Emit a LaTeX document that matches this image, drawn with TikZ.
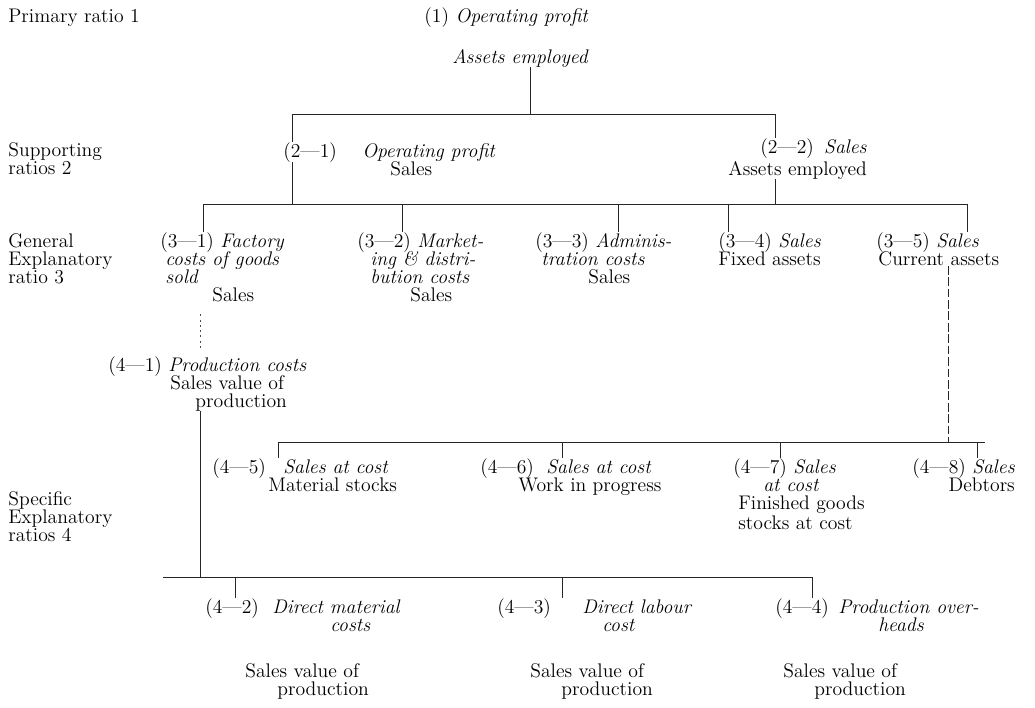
\documentclass[tikz,border=0pt]{standalone}
\begin{document}
\begin{tikzpicture}[x=0.02cm, y=-0.02cm,
  txt/.style={anchor=base west, inner sep=0pt, font=\fontsize{11.2}{12}\selectfont},
  rtxt/.style={txt, anchor=base east},
  link/.style={line width=0.55pt, black!85},
  faint/.style={line width=0.5pt, black!70, dash pattern=on 1.2pt off 1.8pt},
  broken/.style={line width=0.55pt, black!85, dash pattern=on 5pt off 1.5pt}]
\useasboundingbox (0,0) rectangle (1035,707);

% level labels
\node[txt] (l1)  at (8,22)  {Primary ratio 1};
\node[txt] (l2a) at (8,156) {Supporting};
\node[txt] (l2b) at (8,174) {ratios 2};
\node[txt] (l3a) at (8,247) {General};
\node[txt] (l3b) at (8,265) {Explanatory};
\node[txt] (l3c) at (8,283) {ratio 3};
\node[txt] (l4a) at (8,505) {Specific};
\node[txt] (l4b) at (8,523) {Explanatory};
\node[txt] (l4c) at (8,541) {ratios 4};

% primary ratio
\node[txt] (r1b) at (452,63) {\textit{Assets employed}};
\node[rtxt] (r1a) at (r1b.base east |- 0,22) {(1)~\textit{Operating profit}};

% supporting ratios
\node[txt] (r21a) at (283,157) {(2\textemdash1)};
\node[txt] (r21b) at (362,157) {\textit{Operating profit}};
\node[txt] (r21c) at (390,175) {Sales};
\node[txt] (r22c) at (728,175) {Assets employed};
\node[txt] (r22a) at (760,153) {(2\textemdash2)};
\node[rtxt] (r22b) at (r22c.base east |- 0,153) {\textit{Sales}};

% general explanatory ratios
\node[txt] (r31a) at (160,247) {(3\textemdash1)~\textit{Factory}};
\node[txt] (r31b) at (165,265) {\textit{costs of goods}};
\node[txt] (r31c) at (165,283) {\textit{sold}};
\node[txt] (r31d) at (212,301) {Sales};
\node[txt] (r32a) at (357,247) {(3\textemdash2)~\textit{Market-}};
\node[txt] (r32b) at (370,265) {\textit{ing \& distri-}};
\node[txt] (r32c) at (370,283) {\textit{bution costs}};
\node[txt] (r32d) at (410,301) {Sales};
\node[txt] (r33a) at (535,247) {(3\textemdash3)~\textit{Adminis-}};
\node[txt] (r33b) at (541,265) {\textit{tration costs}};
\node[txt] (r33c) at (588,283) {Sales};
\node[txt] (r34a) at (718,247) {(3\textemdash4)~\textit{Sales}};
\node[txt] (r34b) at (718,265) {Fixed assets};
\node[txt] (r35a) at (876,247) {(3\textemdash5)~\textit{Sales}};
\node[txt] (r35b) at (878,265) {Current assets};

% specific explanatory ratios
\node[txt] (r41a) at (108,371) {(4\textemdash1)};
\node[txt] (r41b) at (168,371) {\textit{Production costs}};
\node[txt] (r41c) at (170,389) {Sales value of};
\node[txt] (r41d) at (195,407) {production};

\node[txt] (r45a) at (212,473) {(4\textemdash5)};
\node[txt] (r45b) at (283,473) {\textit{Sales at cost}};
\node[txt] (r45c) at (268,491) {Material stocks};
\node[txt] (r46a) at (480,473) {(4\textemdash6)};
\node[txt] (r46b) at (546,473) {\textit{Sales at cost}};
\node[txt] (r46c) at (518,491) {Work in progress};
\node[txt] (r47a) at (733,473) {(4\textemdash7)~\textit{Sales}};
\node[txt] (r47b) at (763,491) {\textit{at cost}};
\node[txt] (r47c) at (738,509) {Finished goods};
\node[txt] (r47d) at (738,529) {stocks at cost};
\node[txt] (r48a) at (912,473) {(4\textemdash8)~\textit{Sales}};
\node[rtxt] (r48b) at (r48a.base east |- 0,491) {Debtors};

\node[txt] (r42a) at (205,613) {(4\textemdash2)};
\node[txt] (r42b) at (272,613) {\textit{Direct material}};
\node[txt] (r42c) at (330,631) {\textit{costs}};
\node[txt] (r42d) at (245,677) {Sales value of};
\node[txt] (r42e) at (277,695) {production};
\node[txt] (r43a) at (497,613) {(4\textemdash3)};
\node[txt] (r43b) at (582,613) {\textit{Direct labour}};
\node[txt] (r43c) at (602,631) {\textit{cost}};
\node[txt] (r43d) at (530,677) {Sales value of};
\node[txt] (r43e) at (561,695) {production};
\node[txt] (r44a) at (775,613) {(4\textemdash4)};
\node[txt] (r44b) at (838,613) {\textit{Production over-}};
\node[txt] (r44c) at (878,631) {\textit{heads}};
\node[txt] (r44d) at (783,677) {Sales value of};
\node[txt] (r44e) at (814,695) {production};

% junctions of the connecting lines
\coordinate (b1l) at (292,114);
\coordinate (b1m) at (530,114);
\coordinate (b1r) at (775,114);
\coordinate (b2l) at (203,204);
\coordinate (b2a) at (292,204);
\coordinate (b2b) at (402,204);
\coordinate (b2c) at (618,204);
\coordinate (b2d) at (728,204);
\coordinate (b2e) at (775,204);
\coordinate (b2r) at (967,204);
\coordinate (b3l) at (163,577);
\coordinate (b3a) at (200,577);
\coordinate (b3b) at (235,577);
\coordinate (b3c) at (562,577);
\coordinate (b3r) at (812,577);
\coordinate (b4l) at (278,442);
\coordinate (b4a) at (562,442);
\coordinate (b4b) at (780,442);
\coordinate (b4c) at (948,442);
\coordinate (b4r) at (977,442);

% primary -> supporting
\draw[link] (r1b.south -| b1m) -- (b1m);
\draw[link] (b1l) -- (b1r);
\draw[link] (b1l) -- (b1l |- r21a.north);
\draw[link] (b1r) -- (b1r |- r22a.north);

% supporting -> general explanatory
\draw[link] (r21a.south -| b1l) -- (b2a);
\draw[link] (r22c.south -| b2e) -- (b2e);
\draw[link] (b2l) -- (b2r);
\draw[link] (b2l) -- (b2l |- r31a.north);
\draw[link] (b2b) -- (b2b |- r32a.north);
\draw[link] (b2c) -- (b2c |- r33a.north);
\draw[link] (b2d) -- (b2d |- r34a.north);
\draw[link] (b2r) -- (b2r |- r35a.north);

% factory costs -> production costs -> direct cost ratios
\draw[faint] ([yshift=-0.25cm]r31d.south -| b3a) -- ([yshift=0.1cm]r41a.north -| b3a);
\draw[link] (r41d.south -| b3a) -- (b3a);
\draw[link] (b3l) -- (b3r);
\draw[link] (b3b) -- (b3b |- r42a.north);
\draw[link] (b3c) -- (b3c |- r43a.north);
\draw[link] (b3r) -- (b3r |- r44a.north);

% current assets -> asset turnover ratios
\draw[broken] (r35b.south -| b4c) -- (b4c);
\draw[link] (b4l) -- ([xshift=0.16cm]b4r);
\draw[link] (b4l) -- (b4l |- r45a.north);
\draw[link] (b4a) -- (b4a |- r46a.north);
\draw[link] (b4b) -- (b4b |- r47a.north);
\draw[link] (b4r) -- (b4r |- r48a.north);
\end{tikzpicture}
\end{document}
